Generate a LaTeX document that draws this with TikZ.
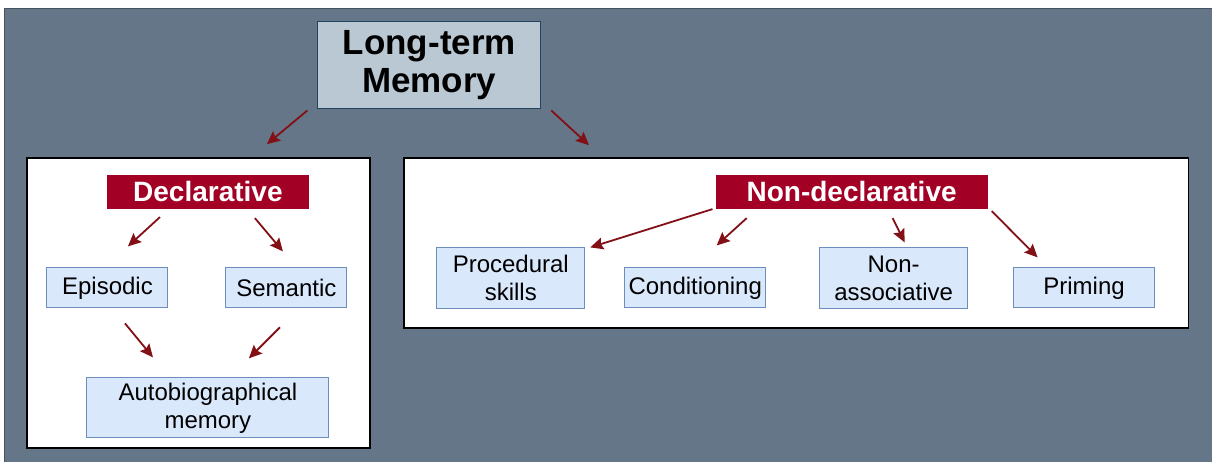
\documentclass[tikz,border=0pt]{standalone}
\usepackage{fontspec}
\setmainfont{Liberation Sans}
\usetikzlibrary{positioning, arrows.meta, calc}
\definecolor{slatecol}{RGB}{100,118,135}
\definecolor{topcol}{RGB}{186,200,211}
\definecolor{topline}{RGB}{35,68,93}
\definecolor{headcol}{RGB}{162,0,37}
\definecolor{leafcol}{RGB}{218,232,252}
\definecolor{leafline}{RGB}{108,142,191}
\definecolor{arrowcol}{RGB}{130,16,22}

\begin{document}
\begin{tikzpicture}[
			x=1pt, y=1pt,
			on grid,
			top/.style={
				draw=topline,
				fill=topcol,
				line width=1pt,
				inner sep=0pt,
				minimum width=223pt,
				minimum height=87pt,
				align=center,
				font=\fontsize{35}{38}\selectfont\bfseries
			},
			panel/.style={
				draw=black,
				fill=white,
				line width=1.5pt,
				inner sep=0pt
			},
			head/.style={
				fill=headcol,
				text=white,
				inner sep=0pt,
				minimum height=34pt,
				font=\fontsize{28}{32}\selectfont\bfseries
			},
			leaf/.style={
				draw=leafline,
				fill=leafcol,
				line width=1pt,
				inner sep=0pt,
				minimum height=40pt,
				align=center,
				font=\fontsize{24}{28}\selectfont
			},
			link/.style={
				draw=arrowcol,
				line width=1.8pt,
				-{Stealth[length=13pt,width=12pt,inset=2pt]}
			}
			]
			% Background
			\fill[white] (0,0) rectangle (1212,462);
			\fill[slatecol] (5,0) rectangle (1212,453);
			\draw[slatecol!70!black, line width=1pt] (5,0) -- (5,453) -- (1212,453);

			% Top node
			\node[top] (ltm) at (429.5,396.5) {Long-term\\Memory};

			% Panels
			\node[panel, minimum width=343pt, minimum height=290pt] (left) at (198.5,159) {};
			\node[panel, minimum width=785pt, minimum height=170pt] (right) at (796.5,219) {};

			% Declarative side
			\node[head, minimum width=202pt] (decl) at (208,270) {Declarative};
			\node[leaf, minimum width=121pt] (epi) at (107.5,174) {Episodic};
			\node[leaf, minimum width=121pt] (sem) [right=179pt of epi] {Semantic};
			\node[leaf, minimum width=242pt, minimum height=60pt] (auto) at (208,54) {Autobiographical\\memory};

			% Non-declarative side
			\node[head, minimum width=272pt] (nondecl) at (852,270) {Non-declarative};
			\node[leaf, minimum width=148pt, minimum height=61pt] (proc) at (511,183.5) {Procedural\\skills};
			\node[leaf, minimum width=141pt] (cond) at (695.5,174) {Conditioning};
			\node[leaf, minimum width=148pt, minimum height=61pt] (nonassoc) at (894,183.5) {Non-\\associative};
			\node[leaf, minimum width=141pt] (prim) at (1084.5,174) {Priming};

			% Links
			\draw[link] ($(ltm.south west)+(-10,-1)$) -- ($(left.north)+(68.5,13)$);
			\draw[link] ($(ltm.south east)+(10,-1)$) -- ($(right.north west)+(186,12)$);
			\draw[link] ($(decl.south)+(-48,-8)$) -- ($(epi.north)+(20.5,21)$);
			\draw[link] ($(decl.south)+(47,-9)$) -- ($(sem.north)+(-3.5,16)$);
			\draw[link] ($(epi.south)+(17.5,-15)$) -- ($(auto.north)+(-55,20)$);
			\draw[link] ($(sem.south)+(-6.5,-19)$) -- ($(auto.north)+(41,19)$);
			\draw[link] ($(nondecl.south west)+(-3,0)$) -- ($(proc.north east)+(5,0)$);
			\draw[link] ($(nondecl.south)+(-105,-9)$) -- ($(cond.north)+(21.5,22)$);
			\draw[link] ($(nondecl.south)+(41,-9)$) -- ($(nonassoc.north)+(11,5)$);
			\draw[link] ($(nondecl.south east)+(4,-2)$) -- ($(prim.north)+(-46.5,10)$);
		\end{tikzpicture}
\end{document}
